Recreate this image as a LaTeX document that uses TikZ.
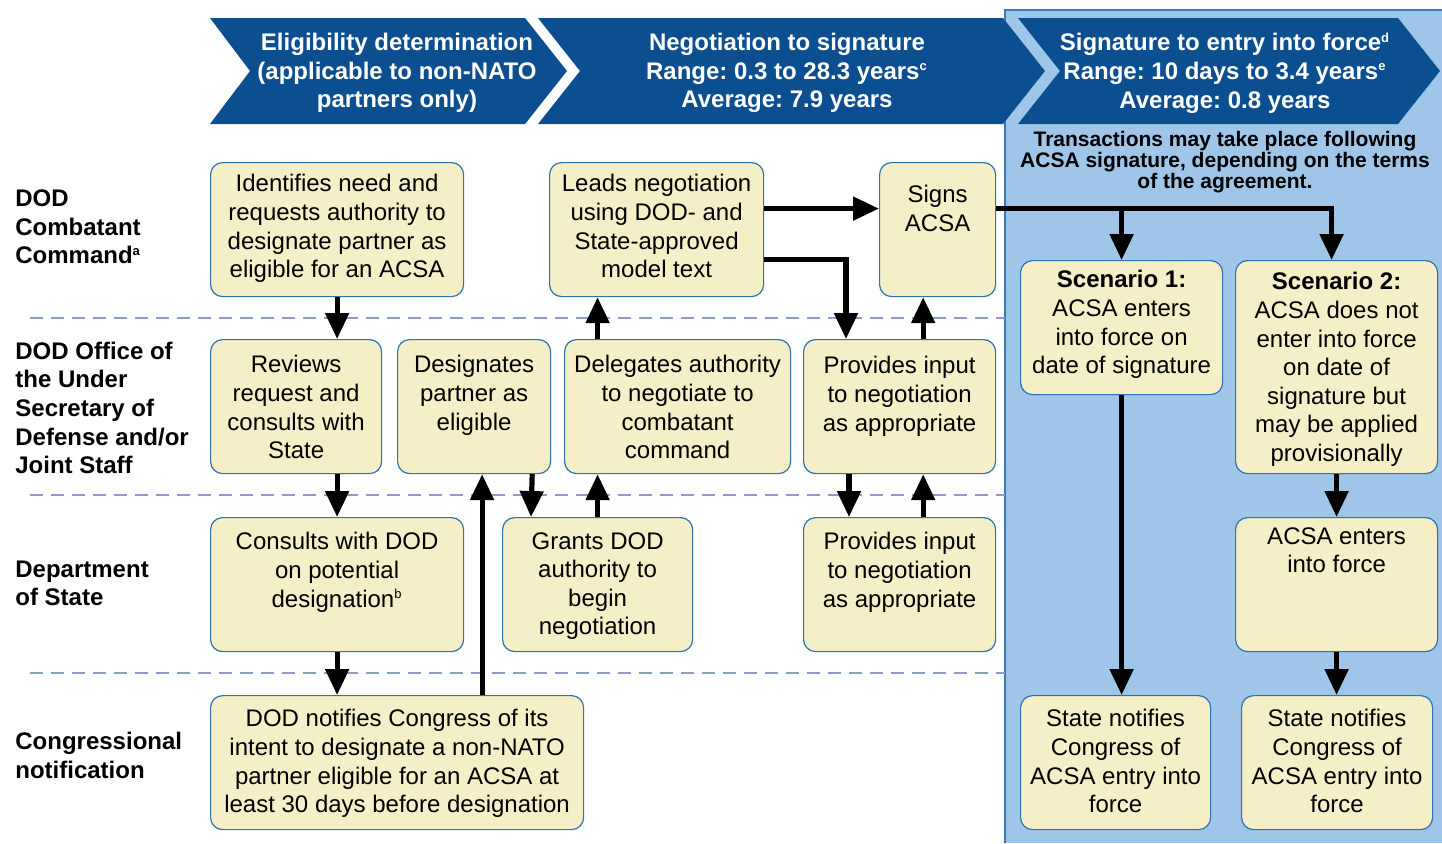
\documentclass[tikz,border=0pt]{standalone}
\usepackage{fontspec}
\setmainfont{Liberation Sans}
\frenchspacing
\usetikzlibrary{arrows.meta,positioning,calc}
\definecolor{hdrblue}{HTML}{0C4F91}
\definecolor{panelblue}{HTML}{9FC6E8}
\definecolor{panelline}{HTML}{3B78B5}
\definecolor{boxfill}{HTML}{F5EFC8}
\definecolor{boxline}{HTML}{2F72B0}
\definecolor{laneline}{HTML}{8E9CC9}
\newcommand{\fnmark}[1]{\textsuperscript{\fontsize{6.5}{6.5}\selectfont #1}}
\tikzset{box/.style={draw=boxline, fill=boxfill, line width=0.6pt, rounded corners=6pt, anchor=north west, inner sep=0pt, minimum height=67pt}, txt/.style={anchor=north, align=center, inner sep=0pt, font=\fontsize{12}{14.3}\selectfont}, lane/.style={anchor=west, align=left, inner sep=0pt, font=\bfseries\fontsize{12}{14.3}\selectfont}, hdrtxt/.style={align=center, text=white, inner sep=0pt, font=\bfseries\fontsize{12}{14.3}\selectfont}, sep/.style={draw=laneline, line width=0.6pt, dash pattern=on 6.5pt off 4pt}, flow/.style={line width=2.6pt, -{Triangle[width=11.5pt,length=13pt]}}}

\begin{document}
\begin{tikzpicture}[x=0.5pt,y=-0.5pt]
\fill[white] (0,0) rectangle (1442,843);
\useasboundingbox (0,0) rectangle (1442,843);
\fill[panelblue] (1005,10) rectangle (1442,843);
\draw[panelline, line width=0.8pt] (1005,843) -- (1005,10) -- (1442,10);
\fill[hdrblue] (210,18) -- (525,18) -- (567,71) -- (525,124) -- (210,124) -- (250,71) -- cycle;
\fill[hdrblue] (538,18) -- (1003,18) -- (1045,71) -- (1003,124) -- (538,124) -- (580,71) -- cycle;
\fill[hdrblue] (1018,18) -- (1398,18) -- (1440,71) -- (1398,124) -- (1018,124) -- (1060,71) -- cycle;
\node[hdrtxt] (elig) at (397,73) {Eligibility determination\\(applicable to non-NATO\\partners only)};
\node[hdrtxt] (nego) at (787,73) {Negotiation to signature\\Range: 0.3 to 28.3 years\fnmark{c}\\Average: 7.9 years};
\node[hdrtxt] (entry) at (1225,73) {Signature to entry into force\fnmark{d}\\Range: 10 days to 3.4 years\fnmark{e}\\Average: 0.8 years};
\node[align=center, inner sep=0pt, font=\bfseries\fontsize{10.5}{10.6}\selectfont] (trans) at (1225,162) {Transactions may take place following\\ACSA signature, depending on the terms\\of the agreement.};

\draw[sep] (30,318) -- (1005,318);
\draw[sep] (30,495) -- (1005,495);
\draw[sep] (30,673) -- (1005,673);

\node[lane] (cocom) at (15,227) {DOD\\Combatant\\Command\fnmark{a}};
\node[lane] (osd) at (15,408) {DOD Office of\\the Under\\Secretary of\\Defense and/or\\Joint Staff};
\node[lane] (dos) at (15,583.5) {Department\\of State};
\node[lane] (cong) at (15,755.5) {Congressional\\notification};

\node[box, minimum width=126.5pt] (A1) at (210,162) {};
\node[txt] (A1t) at ([yshift=-6pt]A1.north) {Identifies need and\\requests authority to\\designate partner as\\eligible for an ACSA};
\node[box, minimum width=107pt] (A2) at (549,162) {};
\node[txt] (A2t) at ([yshift=-6pt]A2.north) {Leads negotiation\\using DOD- and\\State-approved\\model text};
\node[box, minimum width=58pt] (A3) at (879,162) {};
\node[txt] (A3t) at ([yshift=-11.5pt]A3.north) {Signs\\ACSA};

\node[box, minimum width=85.5pt] (B1) at (210,339) {};
\node[txt] (B1t) at ([yshift=-8pt]B1.north) {Reviews\\request and\\consults with\\State};
\node[box, minimum width=76.5pt] (B2) at (397,339) {};
\node[txt] (B2t) at ([yshift=-8pt]B2.north) {Designates\\partner as\\eligible};
\node[box, minimum width=113pt] (B3) at (564,339) {};
\node[txt] (B3t) at ([yshift=-8pt]B3.north) {Delegates authority\\to negotiate to\\combatant\\command};
\node[box, minimum width=96pt] (B4) at (803,339) {};
\node[txt] (B4t) at ([yshift=-8.5pt]B4.north) {Provides input\\to negotiation\\as appropriate};

\node[box, minimum width=126.5pt] (C1) at (210,517) {};
\node[txt] (C1t) at ([yshift=-7.5pt]C1.north) {Consults with DOD\\on potential\\designation\fnmark{b}};
\node[box, minimum width=95pt] (C2) at (502,517) {};
\node[txt] (C2t) at ([yshift=-7.5pt]C2.north) {Grants DOD\\authority to\\begin\\negotiation};
\node[box, minimum width=96pt] (C3) at (803,517) {};
\node[txt] (C3t) at ([yshift=-7.5pt]C3.north) {Provides input\\to negotiation\\as appropriate};

\node[box, minimum width=186.5pt] (D1) at (210,695) {};
\node[txt] (D1t) at ([yshift=-7pt]D1.north) {DOD notifies Congress of its\\intent to designate a non-NATO\\partner eligible for an ACSA at\\least 30 days before designation};

\node[box, minimum width=101pt] (S1) at (1020,260) {};
\node[txt] (S1t) at ([yshift=-5pt]S1.north) {\textbf{Scenario 1:}\\ACSA enters\\into force on\\date of signature};
\node[box, minimum width=101pt, minimum height=106.5pt] (S2) at (1235,260) {};
\node[txt] (S2t) at ([yshift=-6pt]S2.north) {\textbf{Scenario 2:}\\ACSA does not\\enter into force\\on date of\\signature but\\may be applied\\provisionally};
\node[box, minimum width=101pt] (S3) at (1235,517) {};
\node[txt] (S3t) at ([yshift=-5pt]S3.north) {ACSA enters\\into force};
\node[box, minimum width=95pt] (N1) at (1020,695) {};
\node[txt] (N1t) at ([yshift=-7pt]N1.north) {State notifies\\Congress of\\ACSA entry into\\force};
\node[box, minimum width=95.5pt] (N2) at (1241,695) {};
\node[txt] (N2t) at ([yshift=-7pt]N2.north) {State notifies\\Congress of\\ACSA entry into\\force};

\draw[flow] (A1.south) -- (A1.south |- B1.north);
\draw[flow] (A1.south |- B1.south) -- (C1.north);
\draw[flow] (C1.south) -- (C1.south |- D1.north);
\coordinate (notify) at ($(B2.south)+(8,0)$);
\draw[flow] (notify |- D1.north) -- (notify);
\draw[flow] ($(B2.south east)+(-19,0)$) -- ($(C2.north west)+(29,0)$);
\draw[flow] (C2.north) -- (C2.north |- B3.south);
\draw[flow] (C2.north |- B3.north) -- (C2.north |- A2.south);
\draw[flow] ($(A2.east)+(0,-21)$) -- ($(A3.west)+(0,-21)$);
\draw[flow] ($(A2.east)+(0,30)$) -| ($(B4.north west)+(43,0)$);
\coordinate (input) at ($(B4.north east)+(-73,0)$);
\draw[flow] (input) -- (input |- A3.south);
\draw[flow] ($(B4.south west)+(46,0)$) -- ($(C3.north west)+(46,0)$);
\draw[flow] ($(C3.north east)+(-73,0)$) -- ($(B4.south east)+(-73,0)$);
\coordinate (sig) at ($(A3.east)+(0,-21)$);
\draw[flow] (sig) -| ($(S2.north)+(-5,0)$);
\draw[flow] (sig -| S1.north) -- (S1.north);
\draw[flow] (S1.south) -- (S1.south |- N1.north);
\draw[flow] (S2.south) -- (S3.north);
\draw[flow] (S3.south) -- (S3.south |- N2.north);
\end{tikzpicture}
\end{document}
